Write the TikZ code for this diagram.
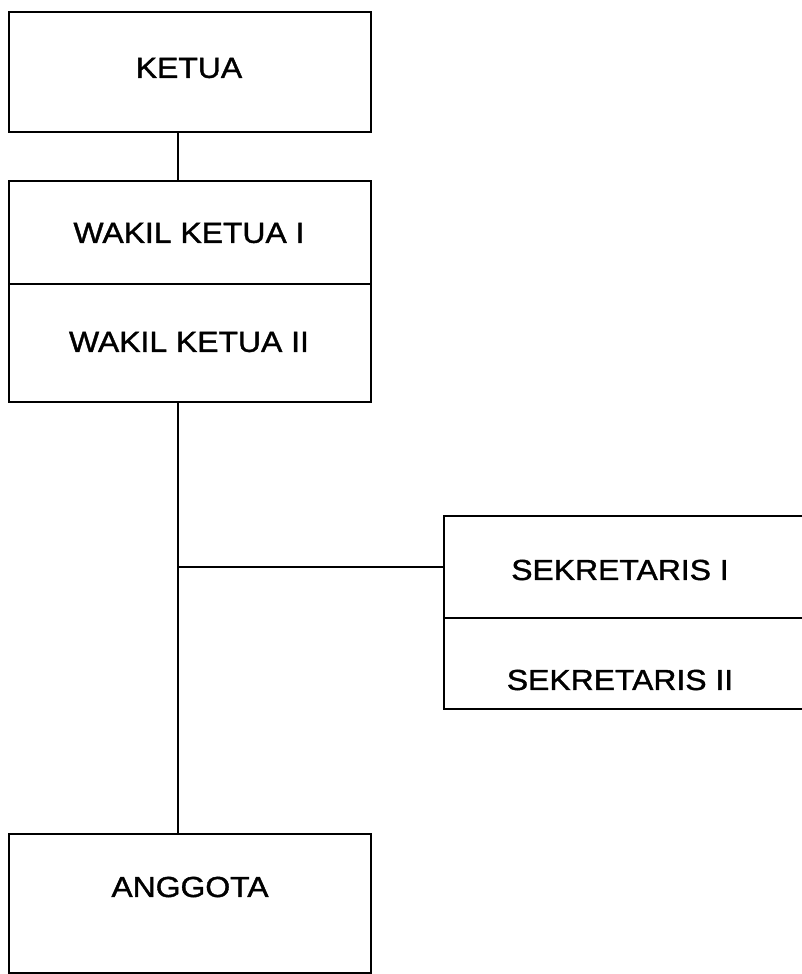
\documentclass[tikz,border=0pt]{standalone}
\usepackage{fontspec}
\setmainfont[FakeStretch=1.1,FakeBold=1.3]{Liberation Sans}
\begin{document}
\begin{tikzpicture}[x=1pt,y=-1pt,
  box/.style={draw=black,line width=2pt,rectangle,inner sep=0pt,anchor=north west},
  lbl/.style={font=\fontsize{29}{34}\selectfont,inner sep=0pt},
  conn/.style={draw=black,line width=2pt}]
\useasboundingbox (0,0) rectangle (802,974);
\fill[white] (0,0) rectangle (802,974);
\clip (0,0) rectangle (802,974);
% boxes
\node[box,minimum width=362pt,minimum height=120pt] (ketua) at (8,11) {};
\node[box,minimum width=362pt,minimum height=103pt] (wakil1) at (8,180) {};
\node[box,minimum width=362pt,minimum height=118pt] (wakil2) at (8,283) {};
\node[box,minimum width=400pt,minimum height=102pt] (sek1) at (443,515) {};
\node[box,minimum width=400pt,minimum height=91pt] (sek2) at (443,617) {};
\node[box,minimum width=362pt,minimum height=139pt] (anggota) at (8,833) {};
% texts
\node[lbl] (tketua) at (189,68) {KETUA};
\node[lbl] (twakil1) at (189,233) {WAKIL KETUA I};
\node[lbl] (twakil2) at (189,342) {WAKIL KETUA II};
\node[lbl] (tsek1) at (620,570) {SEKRETARIS I};
\node[lbl] (tsek2) at (620,680) {SEKRETARIS II};
\node[lbl] (tanggota) at (190,887) {ANGGOTA};
% connectors
\coordinate (vx) at (178,0);
\draw[conn] (ketua.south -| vx) -- (wakil1.north -| vx);
\draw[conn] (wakil2.south -| vx) -- (anggota.north -| vx);
\draw[conn] (sek1.west -| vx) -- (sek1.west);
\end{tikzpicture}
\end{document}
